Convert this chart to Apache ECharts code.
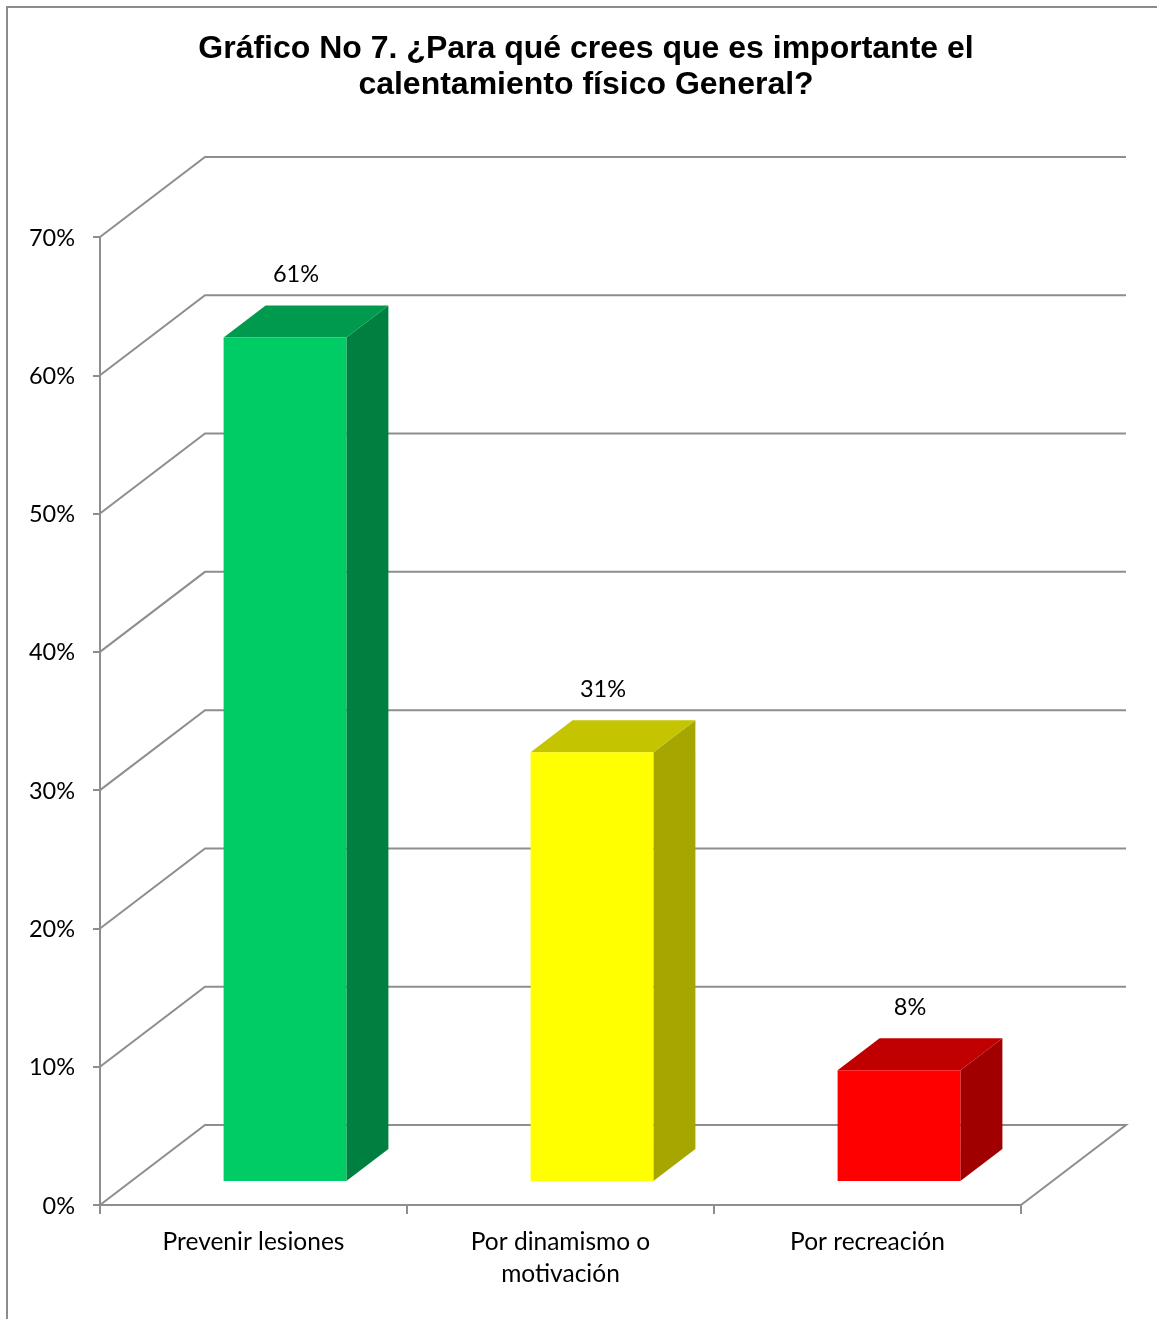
<!DOCTYPE html>
<html><head><meta charset="utf-8">
<script src="https://cdn.jsdelivr.net/npm/echarts@6/dist/echarts.min.js"></script>
<style>html,body{margin:0;padding:0;background:#fff}#c{width:1157px;height:1319px}</style>
</head><body><div id="c"></div>
<script>
const categories = ['Prevenir lesiones', 'Por dinamismo o\nmotivación', 'Por recreación'];
const values = [61, 31, 8];
const valueLabels = ['61%', '31%', '8%'];
const yTicks = [0, 10, 20, 30, 40, 50, 60, 70];
const frontColors = ['#00CC66', '#FFFF00', '#FF0000'];
const topColors = ['#009A4E', '#C4C400', '#C00000'];
const sideColors = ['#008040', '#A6A600', '#A00000'];

const DX = 105, DY = -80;          // depth vector of the 3D box
const FRONT = 0.3, DEPTH = 0.4;    // bar position/depth fraction
const GRID_COLOR = '#8E8E8E';
const FONT = 'Lato, Carlito, "Open Sans", sans-serif';

const chart = echarts.init(document.getElementById('c'));
chart.setOption({
  backgroundColor: '#fff',
  animation: false,
  title: {
    text: 'Gráfico No 7. ¿Para qué crees que es importante el\ncalentamiento físico General?',
    left: 581, top: 26, textAlign: 'center',
    textStyle: { fontFamily: '"Liberation Sans", Arial, sans-serif', fontWeight: 'bold', fontSize: 32, lineHeight: 36, color: '#000' }
  },
  graphic: [{
    type: 'rect', shape: { x: 7, y: 7, width: 1170, height: 1340 },
    style: { fill: 'none', stroke: '#8C8C8C', lineWidth: 2 }, silent: true
  }],
  grid: { left: 100, right: 136, top: 237, bottom: 114 },
  xAxis: {
    type: 'category', data: categories,
    axisLine: { lineStyle: { color: GRID_COLOR, width: 2 } },
    axisTick: { show: true, length: 9, lineStyle: { color: GRID_COLOR, width: 2 } },
    axisLabel: { fontFamily: FONT, fontSize: 24.5, color: '#000', margin: 21, lineHeight: 32, interval: 0 },
    splitLine: { show: false }
  },
  yAxis: {
    type: 'value', min: 0, max: 70, interval: 10,
    axisLine: { show: true, lineStyle: { color: GRID_COLOR, width: 2 } },
    axisTick: { show: true, length: 7, lineStyle: { color: GRID_COLOR, width: 2 } },
    axisLabel: { formatter: '{value}%', fontFamily: FONT, fontSize: 23.5, color: '#000', margin: 25, verticalAlign: 'top', padding: [-11, 0, 0, 0] },
    splitLine: { show: false }
  },
  series: [{
    type: 'custom', z: 1, silent: true,
    data: yTicks.map(v => [0, v]),
    encode: { x: 0, y: 1 },
    renderItem: function (params, api) {
      const cs = params.coordSys;
      const y = api.coord([0, api.value(1)])[1];
      const L = cs.x, R = cs.x + cs.width;
      let pts = [[L, y], [L + DX, y + DY], [R + DX, y + DY]];
      if (api.value(1) === 0) pts.push([R, y]);
      return { type: 'polyline', shape: { points: pts }, style: { stroke: GRID_COLOR, lineWidth: 2, fill: null } };
    }
  }, {
    type: 'custom', z: 3, silent: true,
    data: values.map((v, i) => [i, v]),
    encode: { x: 0, y: 1 },
    renderItem: function (params, api) {
      const i = params.dataIndex;
      const cx = api.coord([api.value(0), 0])[0];
      const bw = api.size([1, 0])[0] * 0.4;
      const fx = FRONT * DX, fy = FRONT * DY, dx = DEPTH * DX, dy = DEPTH * DY;
      const yT = api.coord([api.value(0), api.value(1)])[1] + fy;
      const yB = api.coord([api.value(0), 0])[1] + fy;
      const x0 = cx - bw / 2 + fx, x1 = x0 + bw;
      return {
        type: 'group', children: [
          { type: 'polygon', shape: { points: [[x1, yT], [x1 + dx, yT + dy], [x1 + dx, yB + dy], [x1, yB]] }, style: { fill: sideColors[i] } },
          { type: 'polygon', shape: { points: [[x0, yT], [x1, yT], [x1 + dx, yT + dy], [x0 + dx, yT + dy]] }, style: { fill: topColors[i] } },
          { type: 'rect', shape: { x: x0, y: yT, width: bw, height: yB - yT }, style: { fill: frontColors[i] } },
          { type: 'text', x: cx + fx + 11, y: yT - 63, style: { text: valueLabels[i], fontFamily: FONT, fontSize: 23.5, fill: '#000', align: 'center', verticalAlign: 'middle' } }
        ]
      };
    }
  }]
});
</script></body></html>
